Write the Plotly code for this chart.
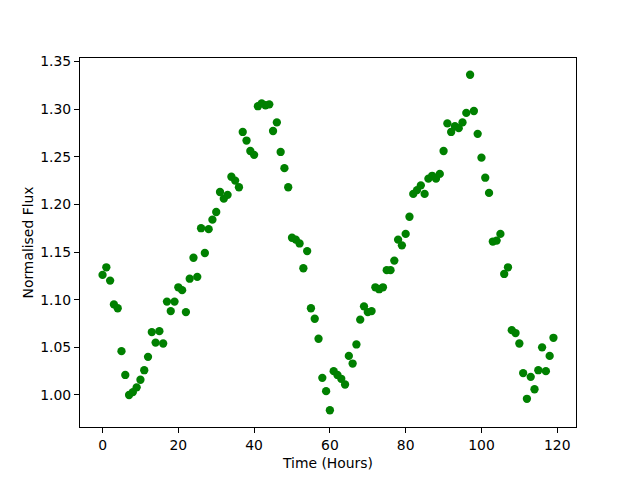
import plotly.graph_objects as go

hours = list(range(120))
flux = [
    1.126, 1.134, 1.120, 1.095, 1.091, 1.046, 1.021, 1.000, 1.003, 1.008,
    1.016, 1.026, 1.040, 1.066, 1.055, 1.067, 1.054, 1.098, 1.088, 1.098,
    1.113, 1.110, 1.087, 1.122, 1.144, 1.124, 1.175, 1.149, 1.174, 1.184,
    1.192, 1.213, 1.206, 1.210, 1.229, 1.225, 1.218, 1.276, 1.267, 1.256,
    1.252, 1.303, 1.306, 1.304, 1.305, 1.277, 1.286, 1.255, 1.238, 1.218,
    1.165, 1.163, 1.159, 1.133, 1.151, 1.091, 1.080, 1.059, 1.018, 1.004,
    0.984, 1.025, 1.021, 1.017, 1.011, 1.041, 1.033, 1.053, 1.079, 1.093,
    1.087, 1.088, 1.113, 1.111, 1.113, 1.131, 1.131, 1.141, 1.163, 1.157,
    1.169, 1.187, 1.211, 1.215, 1.220, 1.211, 1.227, 1.230, 1.227, 1.232,
    1.256, 1.285, 1.276, 1.282, 1.280, 1.286, 1.296, 1.336, 1.298, 1.274,
    1.249, 1.228, 1.212, 1.161, 1.162, 1.169, 1.127, 1.134, 1.068, 1.065,
    1.054, 1.023, 0.996, 1.019, 1.006, 1.026, 1.050, 1.025, 1.041, 1.060,
]
x_ticks = [0, 20, 40, 60, 80, 100, 120]
y_ticks = [1.00, 1.05, 1.10, 1.15, 1.20, 1.25, 1.30, 1.35]

xmin, xmax = min(hours), max(hours)
ymin, ymax = min(flux), max(flux)
xpad = (xmax - xmin) * 0.05
ypad = (ymax - ymin) * 0.05

fig = go.Figure(go.Scatter(
    x=hours, y=flux, mode="markers",
    marker=dict(color="#008000", size=8.3, line=dict(width=0)),
))

font = dict(family="DejaVu Sans", size=13.9, color="black")
axis_common = dict(
    showgrid=False, zeroline=False, showline=True, linecolor="black",
    linewidth=1, mirror=True, ticks="outside", ticklen=5, tickwidth=1,
    tickcolor="black", tickfont=font,
)
fig.update_xaxes(range=[xmin - xpad, xmax + xpad], tickvals=x_ticks,
                 title=dict(text="Time (Hours)", font=font, standoff=6),
                 **axis_common)
fig.update_yaxes(range=[ymin - ypad, ymax + ypad], tickvals=y_ticks, tickformat=".2f",
                 title=dict(text="Normalised Flux", font=font, standoff=3),
                 **axis_common)
fig.update_layout(
    width=632, height=472,
    margin=dict(l=72, r=64, t=50, b=53),
    plot_bgcolor="white", paper_bgcolor="white",
    showlegend=False,
    font=font,
)
fig.write_html("out.html")
